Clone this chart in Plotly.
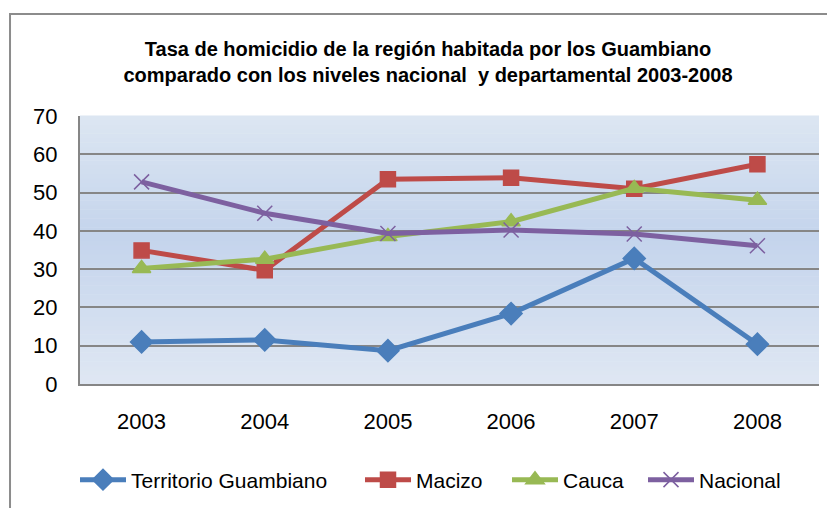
import plotly.graph_objects as go

years = ["2003", "2004", "2005", "2006", "2007", "2008"]
territorio = [11.0, 11.5, 8.7, 18.4, 32.8, 10.4]
macizo = [34.9, 29.7, 53.5, 53.9, 51.0, 57.4]
cauca = [30.2, 32.6, 38.5, 42.4, 51.1, 48.0]
nacional = [52.8, 44.6, 39.3, 40.2, 39.2, 36.1]
y_ticks = [0, 10, 20, 30, 40, 50, 60, 70]

# name, values, colour, symbol, size, legend id, legend line start (px)
series = [
    ("Territorio Guambiano", territorio, "#4a7ebb", "diamond", 17, "legend", 80),
    ("Macizo", macizo, "#be4b48", "square", 15, "legend2", 365),
    ("Cauca", cauca, "#98b954", "triangle-up", 16, "legend3", 512),
    ("Nacional", nacional, "#7d60a0", "x-thin-open", 15, "legend4", 648),
]

fig = go.Figure()
for name, vals, color, sym, size, leg, _ in series:
    fig.add_trace(go.Scatter(
        x=years, y=vals, name=name, mode="lines+markers",
        line=dict(color=color, width=5),
        marker=dict(symbol=sym, size=size, color=color,
                    line=dict(color=color, width=1.5)),
        legend=leg, showlegend=True,
    ))

def mix(c1, c2, t):
    return "rgb(%d,%d,%d)" % tuple(round(a + (b - a) * t) for a, b in zip(c1, c2))

top = (220, 230, 242)
mid = (196, 212, 236)
bot = (223, 231, 243)
n = 60
shapes = []
for i in range(n):
    y0 = i / n
    y1 = (i + 1) / n
    c = (y0 + y1) / 2
    col = mix(bot, mid, c / 0.55) if c < 0.55 else mix(mid, top, (c - 0.55) / 0.45)
    shapes.append(dict(type="rect", xref="paper", yref="paper", x0=0, x1=1,
                       y0=y0, y1=y1 + 0.002, fillcolor=col, line=dict(width=0),
                       layer="below"))
shapes.append(dict(type="rect", xref="paper", yref="paper",
                   x0=-0.0947, x1=1.08, y0=-0.7, y1=1.3806,
                   line=dict(color="#8c8c8c", width=2), fillcolor="rgba(0,0,0,0)",
                   layer="above"))

legend_y = -(480 - 384) / 268
legends = {}
for _, _, _, _, _, leg, start in series:
    legends[leg] = dict(orientation="h", x=(start - 5 - 80) / 739, xanchor="left",
                        y=legend_y, yanchor="middle", font=dict(size=21),
                        bgcolor="rgba(0,0,0,0)", borderwidth=0, itemwidth=46,
                        visible=True)

fig.update_layout(
    width=835, height=508,
    margin=dict(l=72, r=24, t=108, b=132),
    showlegend=True,
    paper_bgcolor="white", plot_bgcolor="rgba(0,0,0,0)",
    font=dict(family="Liberation Sans, Arial, sans-serif", color="black", size=22),
    title=dict(
        text="<b>Tasa de homicidio de la región habitada por los Guambiano<br>comparado con los niveles nacional  y departamental 2003-2008</b>",
        x=(428 - 8) / 835, xanchor="center", y=1 - (56 - 8) / 508, yanchor="middle",
        font=dict(size=20, family="Liberation Sans, Arial"),
    ),
    xaxis=dict(
        type="category", range=[-0.5, 5.5], showgrid=False,
        showline=True, linecolor="#868686", linewidth=2,
        ticks="", ticklabelstandoff=17, tickfont=dict(size=22),
    ),
    yaxis=dict(
        range=[0, 70], tickvals=y_ticks, showgrid=True,
        gridcolor="#868686", gridwidth=1.5, zeroline=False,
        showline=True, linecolor="#868686", linewidth=2,
        ticks="", ticklabelstandoff=16, tickfont=dict(size=22),
    ),
    shapes=shapes,
    **legends,
)

fig.write_html("out.html")
